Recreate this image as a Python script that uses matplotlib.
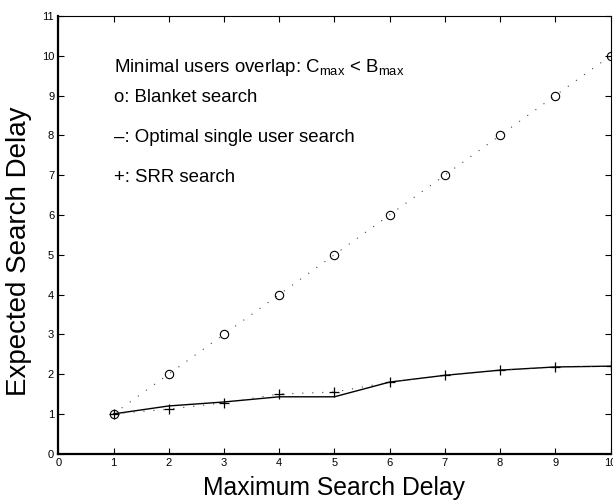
import matplotlib
matplotlib.use("Agg")
import matplotlib.pyplot as plt

plt.rcParams['font.family'] = ['Liberation Sans', 'DejaVu Sans']
plt.rcParams['mathtext.fontset'] = 'custom'
plt.rcParams['mathtext.rm'] = 'Liberation Sans'
plt.rcParams['mathtext.it'] = 'Liberation Sans'

x = [1, 2, 3, 4, 5, 6, 7, 8, 9, 10]
blanket = [1, 2, 3, 4, 5, 6, 7, 8, 9, 10]
optimal = [1.0, 1.2, 1.3, 1.43, 1.43, 1.8, 1.97, 2.1, 2.18, 2.2]
srr = [1.0, 1.12, 1.28, 1.5, 1.55, 1.8, 1.97, 2.1, 2.18, 2.2]
xticks = list(range(0, 11))
yticks = list(range(0, 12))

fig = plt.figure(figsize=(6.13, 5.04), dpi=100)
ax = fig.add_axes([58.3 / 613, 1 - 453.7 / 504, (610.5 - 58.3) / 613, (453.7 - 16) / 504])

ax.plot(x, blanket, linestyle=(0, (1, 8)), color='#444444', linewidth=0.8)
ax.plot(x, blanket, linestyle='none', marker='o', markersize=6, markerfacecolor='none',
        markeredgecolor='black', markeredgewidth=0.8)
ax.plot(x, optimal, linestyle='-', color='black', linewidth=1.0)
ax.plot(x, srr, linestyle=(0, (1, 8)), color='#444444', linewidth=0.8)
ax.plot(x, srr, linestyle='none', marker='+', markersize=7.5, color='black', markeredgewidth=0.9)

ax.set_xlim(0, 10)
ax.set_ylim(0, 11)
ax.set_xticks(xticks)
ax.set_yticks(yticks)
ax.tick_params(direction='in', top=True, right=True, labelsize=8, length=4, width=0.8, pad=3)
for s in ['left', 'bottom']:
    ax.spines[s].set_linewidth(1.6)
for s in ['top', 'right']:
    ax.spines[s].set_linewidth(0.8)

ax.set_xlabel('Maximum Search Delay', fontsize=17.8, labelpad=6)
ax.set_ylabel('Expected Search Delay', fontsize=20)
ax.yaxis.set_label_coords(-0.048, 0.463)

fs = 13.4
ax.text(1.0, 9.7, r'Minimal users overlap: C$_{\mathrm{max}}$ < B$_{\mathrm{max}}$', fontsize=fs, va='center')
ax.text(1.0, 8.95, 'o: Blanket search', fontsize=fs, va='center')
ax.text(1.0, 7.95, '\u2013: Optimal single user search', fontsize=fs, va='center')
ax.text(1.0, 6.94, '+: SRR search', fontsize=fs, va='center')

fig.savefig('out.png', dpi=100)
